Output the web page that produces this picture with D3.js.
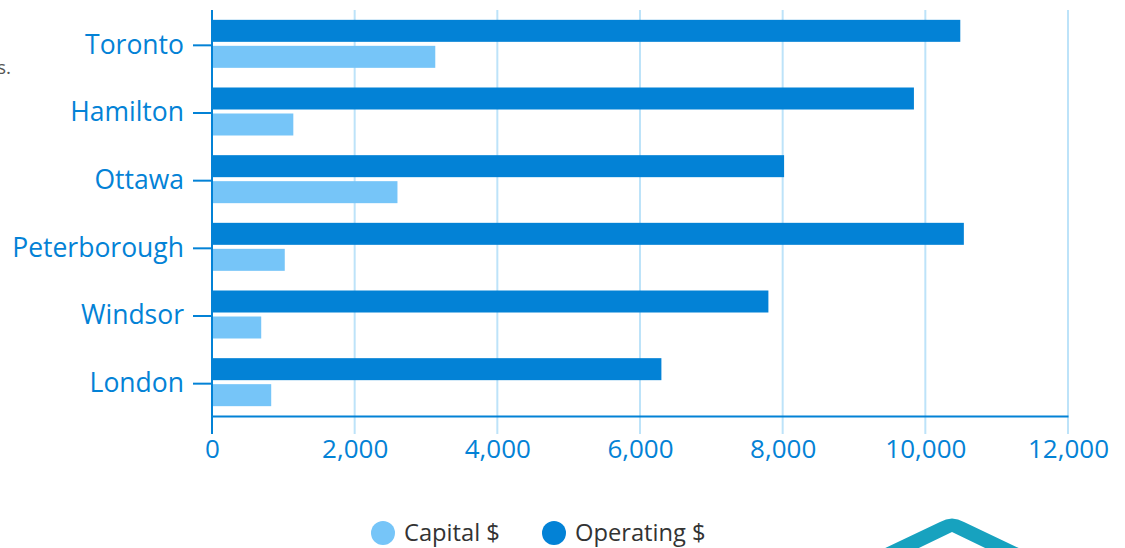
<!DOCTYPE html>
<html>
<head>
<meta charset="utf-8">
<script src="https://cdn.jsdelivr.net/npm/d3@7"></script>
<style>
  body { margin: 0; background: #fff; overflow: hidden; }
  svg { display: block; font-family: "Open Sans", sans-serif; }
</style>
</head>
<body>
<div id="chart"></div>
<script>
// data
const cities = ["Toronto", "Hamilton", "Ottawa", "Peterborough", "Windsor", "London"];
const operating = [10490, 9840, 8020, 10540, 7800, 6300];
const capital = [3130, 1140, 2600, 1020, 690, 830];
const xTicks = [0, 2000, 4000, 6000, 8000, 10000, 12000];
const seriesNames = ["Capital $", "Operating $"];

const width = 1125, height = 548;
const margin = { top: 10, left: 212, right: 57, bottom: 132 };
const colOp = "#0382d6", colCap = "#76c5f8", colGrid = "#bde3f9";

const svg = d3.select("#chart").append("svg")
    .attr("width", width)
    .attr("height", height);

const x = d3.scaleLinear().domain([0, 12000]).range([margin.left, width - margin.right]);
const y = d3.scaleBand().domain(cities).range([margin.top, height - margin.bottom]);
const bottom = height - margin.bottom;

// grid lines
svg.append("g").selectAll("line")
    .data(xTicks.slice(1))
    .enter().append("line")
    .attr("x1", d => x(d)).attr("x2", d => x(d))
    .attr("y1", margin.top).attr("y2", bottom + 18)
    .attr("stroke", colGrid).attr("stroke-width", 2);

// bars
const barH = 22;
const rows = svg.append("g").selectAll("g")
    .data(cities)
    .enter().append("g");

rows.append("rect")
    .attr("x", x(0))
    .attr("y", d => y(d) + y.bandwidth() / 2 - barH - 2)
    .attr("width", (d, i) => x(operating[i]) - x(0))
    .attr("height", barH)
    .attr("fill", colOp);

rows.append("rect")
    .attr("x", x(0))
    .attr("y", d => y(d) + y.bandwidth() / 2 + 2)
    .attr("width", (d, i) => x(capital[i]) - x(0))
    .attr("height", barH)
    .attr("fill", colCap);

// y axis
const yAxis = svg.append("g")
    .attr("transform", `translate(${x(0)},0)`)
    .call(d3.axisLeft(y).tickSize(19).tickPadding(9));
yAxis.select(".domain").remove();
yAxis.selectAll(".tick").attr("transform", d => `translate(0,${y(d) + y.bandwidth() / 2 + 1.5})`);
yAxis.selectAll(".tick line").attr("stroke", colOp).attr("stroke-width", 2);
yAxis.selectAll(".tick text").attr("fill", colOp).attr("font-size", 26.5)
    .attr("font-family", "Open Sans, sans-serif");
svg.append("line")
    .attr("x1", x(0)).attr("x2", x(0))
    .attr("y1", margin.top).attr("y2", bottom + 18)
    .attr("stroke", colOp).attr("stroke-width", 2);

// x axis
const xAxis = svg.append("g")
    .attr("transform", `translate(0,${bottom})`)
    .call(d3.axisBottom(x).tickValues(xTicks).tickFormat(d3.format(",")).tickSize(0).tickPadding(24));
xAxis.select(".domain").attr("stroke", colOp).attr("stroke-width", 2);
xAxis.selectAll(".tick text").attr("fill", colOp).attr("font-size", 26)
    .attr("font-family", "Open Sans, sans-serif");

// legend
const legend = svg.append("g").attr("transform", "translate(383,533)");
const items = legend.selectAll("g")
    .data(seriesNames)
    .enter().append("g")
    .attr("transform", (d, i) => `translate(${i * 171},0)`);
items.append("circle").attr("r", 12).attr("fill", (d, i) => i === 0 ? colCap : colOp);
items.append("text").attr("x", 21).attr("dy", "0.35em")
    .attr("font-size", 23.7).attr("fill", "#333").text(d => d);

// stray text cut at the left edge
svg.append("text").attr("x", -3).attr("y", 74)
    .attr("font-size", 19).attr("fill", "#555").text("s.");

// partial logo at bottom right
svg.append("path")
    .attr("d", "M860,560 L940,522 Q952,515 964,522 L1044,560 L1010,560 L952,532 L894,560 Z")
    .attr("fill", "#17a2bf");
</script>
</body>
</html>
